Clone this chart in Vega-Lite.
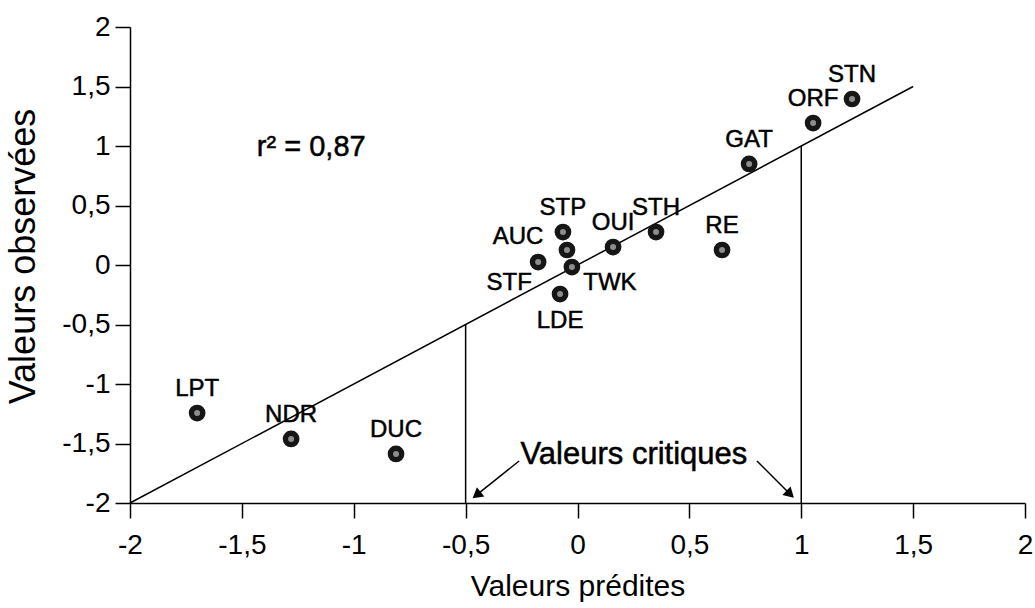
{
  "$schema": "https://vega.github.io/schema/vega-lite/v6.json",
  "width": 895,
  "height": 476,
  "autosize": "none",
  "padding": {"left": 130, "top": 27, "right": 10, "bottom": 105},
  "background": "white",
  "config": {
    "view": {"stroke": null},
    "font": "Liberation Sans",
    "axis": {
      "grid": false,
      "domainColor": "black",
      "domainWidth": 1.5,
      "tickColor": "black",
      "tickWidth": 1.5,
      "labelFont": "Liberation Sans",
      "labelFontSize": 28,
      "labelColor": "black",
      "labelOverlap": false,
      "labelFlush": false,
      "titleFont": "Liberation Sans",
      "titleFontWeight": "normal",
      "titleColor": "black"
    }
  },
  "datasets": {
    "sites": [
      {"site": "LPT", "predit": -1.70, "observe": -1.244},
      {"site": "NDR", "predit": -1.28, "observe": -1.462},
      {"site": "DUC", "predit": -0.811, "observe": -1.588},
      {"site": "STF", "predit": -0.176, "observe": 0.025},
      {"site": "AUC", "predit": -0.047, "observe": 0.126},
      {"site": "STP", "predit": -0.065, "observe": 0.277},
      {"site": "TWK", "predit": -0.025, "observe": -0.017},
      {"site": "LDE", "predit": -0.078, "observe": -0.244},
      {"site": "OUI", "predit": 0.159, "observe": 0.151},
      {"site": "STH", "predit": 0.351, "observe": 0.277},
      {"site": "RE", "predit": 0.646, "observe": 0.126},
      {"site": "GAT", "predit": 0.767, "observe": 0.849},
      {"site": "ORF", "predit": 1.053, "observe": 1.193},
      {"site": "STN", "predit": 1.227, "observe": 1.395}
    ],
    "ajustement": [
      {"predit": -2, "observe": -2},
      {"predit": 1.5, "observe": 1.5}
    ],
    "critiques": [
      {"predit": -0.5, "bas": -2, "haut": -0.5},
      {"predit": 1, "bas": -2, "haut": 1}
    ],
    "fleches": [
      {"cote": "gauche", "x0": -0.261, "y0": -1.647, "x1": -0.445, "y1": -1.924},
      {"cote": "droite", "x0": 0.802, "y0": -1.647, "x1": 0.945, "y1": -1.916}
    ],
    "notes": [
      {"note": "r2", "texte": "r² = 0,87", "predit": -1.19, "observe": 0.99},
      {"note": "seuils", "texte": "Valeurs critiques", "predit": 0.252, "observe": -1.6}
    ]
  },
  "layer": [
    {
      "data": {"name": "critiques"},
      "mark": {"type": "rule", "color": "black", "strokeWidth": 1.5},
      "encoding": {
        "x": {
          "field": "predit", "type": "quantitative",
          "scale": {"domain": [-2, 2], "nice": false, "zero": false},
          "axis": {
            "title": "Valeurs prédites",
            "titleFontSize": 30,
            "titlePadding": 12,
            "tickSize": 15,
            "labelPadding": 13,
            "values": [-2, -1.5, -1, -0.5, 0, 0.5, 1, 1.5, 2],
            "labelExpr": "replace(replace(format(datum.value, '.1~f'), '.', ','), '\u2212', '-')"
          }
        },
        "y": {
          "field": "bas", "type": "quantitative",
          "scale": {"domain": [-2, 2], "nice": false, "zero": false},
          "axis": {
            "title": "Valeurs observées",
            "titleFontSize": 36,
            "titlePadding": 19,
            "titleY": 229,
            "tickSize": 15,
            "labelPadding": 5,
            "values": [-2, -1.5, -1, -0.5, 0, 0.5, 1, 1.5, 2],
            "labelExpr": "replace(replace(format(datum.value, '.1~f'), '.', ','), '\u2212', '-')"
          }
        },
        "y2": {"field": "haut"}
      }
    },
    {
      "data": {"name": "ajustement"},
      "mark": {"type": "line", "color": "black", "strokeWidth": 1.5},
      "encoding": {
        "x": {"field": "predit", "type": "quantitative"},
        "y": {"field": "observe", "type": "quantitative"}
      }
    },
    {
      "data": {"name": "fleches"},
      "mark": {"type": "rule", "color": "black", "strokeWidth": 1.5},
      "encoding": {
        "x": {"field": "x0", "type": "quantitative"},
        "y": {"field": "y0", "type": "quantitative"},
        "x2": {"field": "x1"},
        "y2": {"field": "y1"}
      }
    },
    {
      "data": {"name": "fleches"},
      "transform": [{"filter": "datum.cote === 'gauche'"}],
      "mark": {"type": "point", "shape": "triangle", "filled": true, "color": "black", "opacity": 1, "size": 140, "angle": 231},
      "encoding": {
        "x": {"field": "x1", "type": "quantitative"},
        "y": {"field": "y1", "type": "quantitative"}
      }
    },
    {
      "data": {"name": "fleches"},
      "transform": [{"filter": "datum.cote === 'droite'"}],
      "mark": {"type": "point", "shape": "triangle", "filled": true, "color": "black", "opacity": 1, "size": 140, "angle": 134},
      "encoding": {
        "x": {"field": "x1", "type": "quantitative"},
        "y": {"field": "y1", "type": "quantitative"}
      }
    },
    {
      "data": {"name": "sites"},
      "mark": {"type": "circle", "color": "#161616", "opacity": 1, "size": 280},
      "encoding": {
        "x": {"field": "predit", "type": "quantitative"},
        "y": {"field": "observe", "type": "quantitative"}
      }
    },
    {
      "data": {"name": "sites"},
      "mark": {"type": "circle", "color": "#9a9a9a", "opacity": 0.9, "size": 36},
      "encoding": {
        "x": {"field": "predit", "type": "quantitative"},
        "y": {"field": "observe", "type": "quantitative"}
      }
    },
    {
      "data": {"name": "sites"},
      "transform": [{"filter": {"field": "site", "oneOf": ["LPT", "NDR", "DUC", "STP", "OUI", "STH", "RE", "GAT", "ORF", "STN"]}}],
      "mark": {"type": "text", "fontSize": 24, "color": "black", "stroke": "black", "strokeWidth": 0.5, "baseline": "middle", "align": "center", "dy": -24},
      "encoding": {
        "x": {"field": "predit", "type": "quantitative"},
        "y": {"field": "observe", "type": "quantitative"},
        "text": {"field": "site"}
      }
    },
    {
      "data": {"name": "sites"},
      "transform": [{"filter": {"field": "site", "oneOf": ["LDE"]}}],
      "mark": {"type": "text", "fontSize": 24, "color": "black", "stroke": "black", "strokeWidth": 0.5, "baseline": "middle", "align": "center", "dy": 27},
      "encoding": {
        "x": {"field": "predit", "type": "quantitative"},
        "y": {"field": "observe", "type": "quantitative"},
        "text": {"field": "site"}
      }
    },
    {
      "data": {"name": "sites"},
      "transform": [{"filter": {"field": "site", "oneOf": ["TWK"]}}],
      "mark": {"type": "text", "fontSize": 24, "color": "black", "stroke": "black", "strokeWidth": 0.5, "baseline": "middle", "align": "center", "dx": 38, "dy": 16},
      "encoding": {
        "x": {"field": "predit", "type": "quantitative"},
        "y": {"field": "observe", "type": "quantitative"},
        "text": {"field": "site"}
      }
    },
    {
      "data": {"name": "sites"},
      "transform": [{"filter": {"field": "site", "oneOf": ["AUC"]}}],
      "mark": {"type": "text", "fontSize": 24, "color": "black", "stroke": "black", "strokeWidth": 0.5, "baseline": "middle", "align": "center", "dx": -49, "dy": -13},
      "encoding": {
        "x": {"field": "predit", "type": "quantitative"},
        "y": {"field": "observe", "type": "quantitative"},
        "text": {"field": "site"}
      }
    },
    {
      "data": {"name": "sites"},
      "transform": [{"filter": {"field": "site", "oneOf": ["STF"]}}],
      "mark": {"type": "text", "fontSize": 24, "color": "black", "stroke": "black", "strokeWidth": 0.5, "baseline": "middle", "align": "center", "dx": -29, "dy": 21},
      "encoding": {
        "x": {"field": "predit", "type": "quantitative"},
        "y": {"field": "observe", "type": "quantitative"},
        "text": {"field": "site"}
      }
    },
    {
      "data": {"name": "notes"},
      "transform": [{"filter": "datum.note === 'r2'"}],
      "mark": {"type": "text", "fontSize": 29, "color": "black", "stroke": "black", "strokeWidth": 0.5, "baseline": "middle", "align": "center"},
      "encoding": {
        "x": {"field": "predit", "type": "quantitative"},
        "y": {"field": "observe", "type": "quantitative"},
        "text": {"field": "texte"}
      }
    },
    {
      "data": {"name": "notes"},
      "transform": [{"filter": "datum.note === 'seuils'"}],
      "mark": {"type": "text", "fontSize": 31, "color": "black", "stroke": "black", "strokeWidth": 0.5, "baseline": "middle", "align": "center"},
      "encoding": {
        "x": {"field": "predit", "type": "quantitative"},
        "y": {"field": "observe", "type": "quantitative"},
        "text": {"field": "texte"}
      }
    }
  ]
}
